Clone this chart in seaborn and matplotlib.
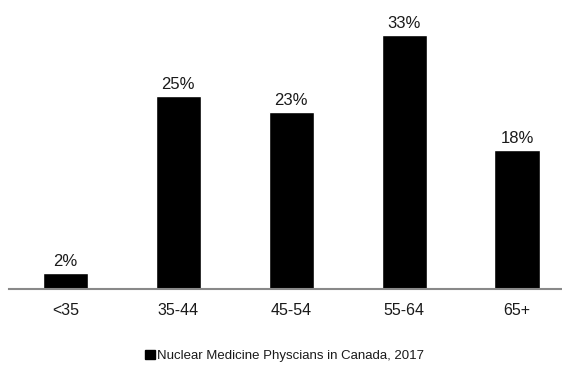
import matplotlib
matplotlib.use("Agg")
import matplotlib.pyplot as plt
import pandas as pd
import seaborn as sns
from matplotlib.patches import Patch

age_groups = ["<35", "35-44", "45-54", "55-64", "65+"]
share_pct = [2, 25, 23, 33, 18]
series_name = "Nuclear Medicine Physcians in Canada, 2017"

df = pd.DataFrame({"age": age_groups, "share": share_pct})

sns.set_theme(style="white")
plt.rcParams["font.family"] = ["Liberation Sans", "DejaVu Sans"]

fig = plt.figure(figsize=(5.62, 3.68), dpi=100)
# axes run slightly past the right edge, as in the reference crop
ax = fig.add_axes([9 / 562, 79.3 / 368, 564.5 / 562, 278.7 / 368])

sns.barplot(data=df, x="age", y="share", color="black", width=0.4,
            saturation=1, ax=ax)
ax.set_xlim(-0.5, len(age_groups) - 0.5)
ax.set_ylim(0, 278.7 / 7.69)

ax.bar_label(ax.containers[0], labels=[f"{v}%" for v in share_pct],
             padding=3, fontsize=12, color="#1a1a1a")

ax.set_xlabel("")
ax.set_ylabel("")
ax.set_yticks([])
ax.tick_params(axis="x", length=0, pad=10, labelsize=11.5, colors="#1a1a1a")
for side in ["top", "right", "left"]:
    ax.spines[side].set_visible(False)
ax.spines["bottom"].set_color("#898989")
ax.spines["bottom"].set_linewidth(1.5)

fig.legend(handles=[Patch(color="black", label=series_name)],
           loc="center", bbox_to_anchor=(0.507, 0.033), frameon=False,
           fontsize=9.5, handlelength=0.7, handleheight=0.7,
           handletextpad=0.2, labelcolor="#1a1a1a")

fig.savefig("out.png", dpi=100)
